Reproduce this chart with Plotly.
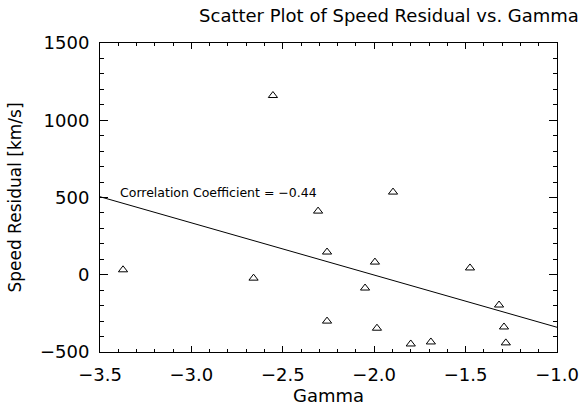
import plotly.graph_objects as go

# Data
gamma = [-3.374, -2.66, -2.554, -2.307, -2.258, -1.996, -2.05, -2.258,
         -1.985, -1.80, -1.69, -1.476, -1.317, -1.29, -1.28, -1.897]
residual = [32, -22, 1160, 412, 147, 82, -86, -300,
            -346, -448, -435, 44, -196, -338, -441, 535]
fit_x = [-3.5, -1.0]
fit_y = [505, -340]
corr_label = "Correlation Coefficient = −0.44"

FONT = "DejaVu Sans"

fig = go.Figure()
fig.add_trace(go.Scatter(
    x=fit_x, y=fit_y, mode="lines",
    line=dict(color="black", width=1), showlegend=False, hoverinfo="skip"))
fig.add_trace(go.Scatter(
    x=gamma, y=residual, mode="markers",
    marker=dict(symbol="triangle-up-open", size=8, color="black",
                line=dict(color="black", width=1)),
    showlegend=False))

fig.add_annotation(x=-3.40, y=535, xref="x", yref="y", text=corr_label,
                   showarrow=False, xanchor="left", yanchor="middle",
                   font=dict(family=FONT, size=12.5, color="black"))

axis_common = dict(
    showgrid=False, zeroline=False, showline=True, linecolor="black",
    linewidth=1, mirror="allticks", ticks="inside", tickcolor="black",
    automargin=False,
    tickfont=dict(family=FONT, size=18, color="black"),
)

fig.update_layout(
    width=582, height=411,
    margin=dict(l=100, r=25, t=43, b=59),
    paper_bgcolor="white", plot_bgcolor="white",
    title=dict(text="Scatter Plot of Speed Residual vs. Gamma",
               font=dict(family=FONT, size=18, color="black"),
               xref="container", x=389 / 582, xanchor="center",
               yref="container", y=1 - 16 / 411, yanchor="middle"),
    xaxis=dict(range=[-3.5, -1.0], dtick=0.5, tick0=-3.5, ticklen=6,
               tickformat=".1f", ticklabelstandoff=6,
               minor=dict(dtick=0.1, ticklen=3, ticks="inside", tickcolor="black"),
               title=dict(text="Gamma", standoff=2,
                          font=dict(family=FONT, size=18, color="black")),
               **axis_common),
    yaxis=dict(range=[-500, 1500], dtick=500, tick0=0, ticklen=8,
               ticklabelstandoff=6,
               minor=dict(dtick=100, ticklen=4, ticks="inside", tickcolor="black"),
               title=dict(text="Speed Residual [km/s]", standoff=13,
                          font=dict(family=FONT, size=17, color="black")),
               **axis_common),
)

fig.write_html("out.html")
